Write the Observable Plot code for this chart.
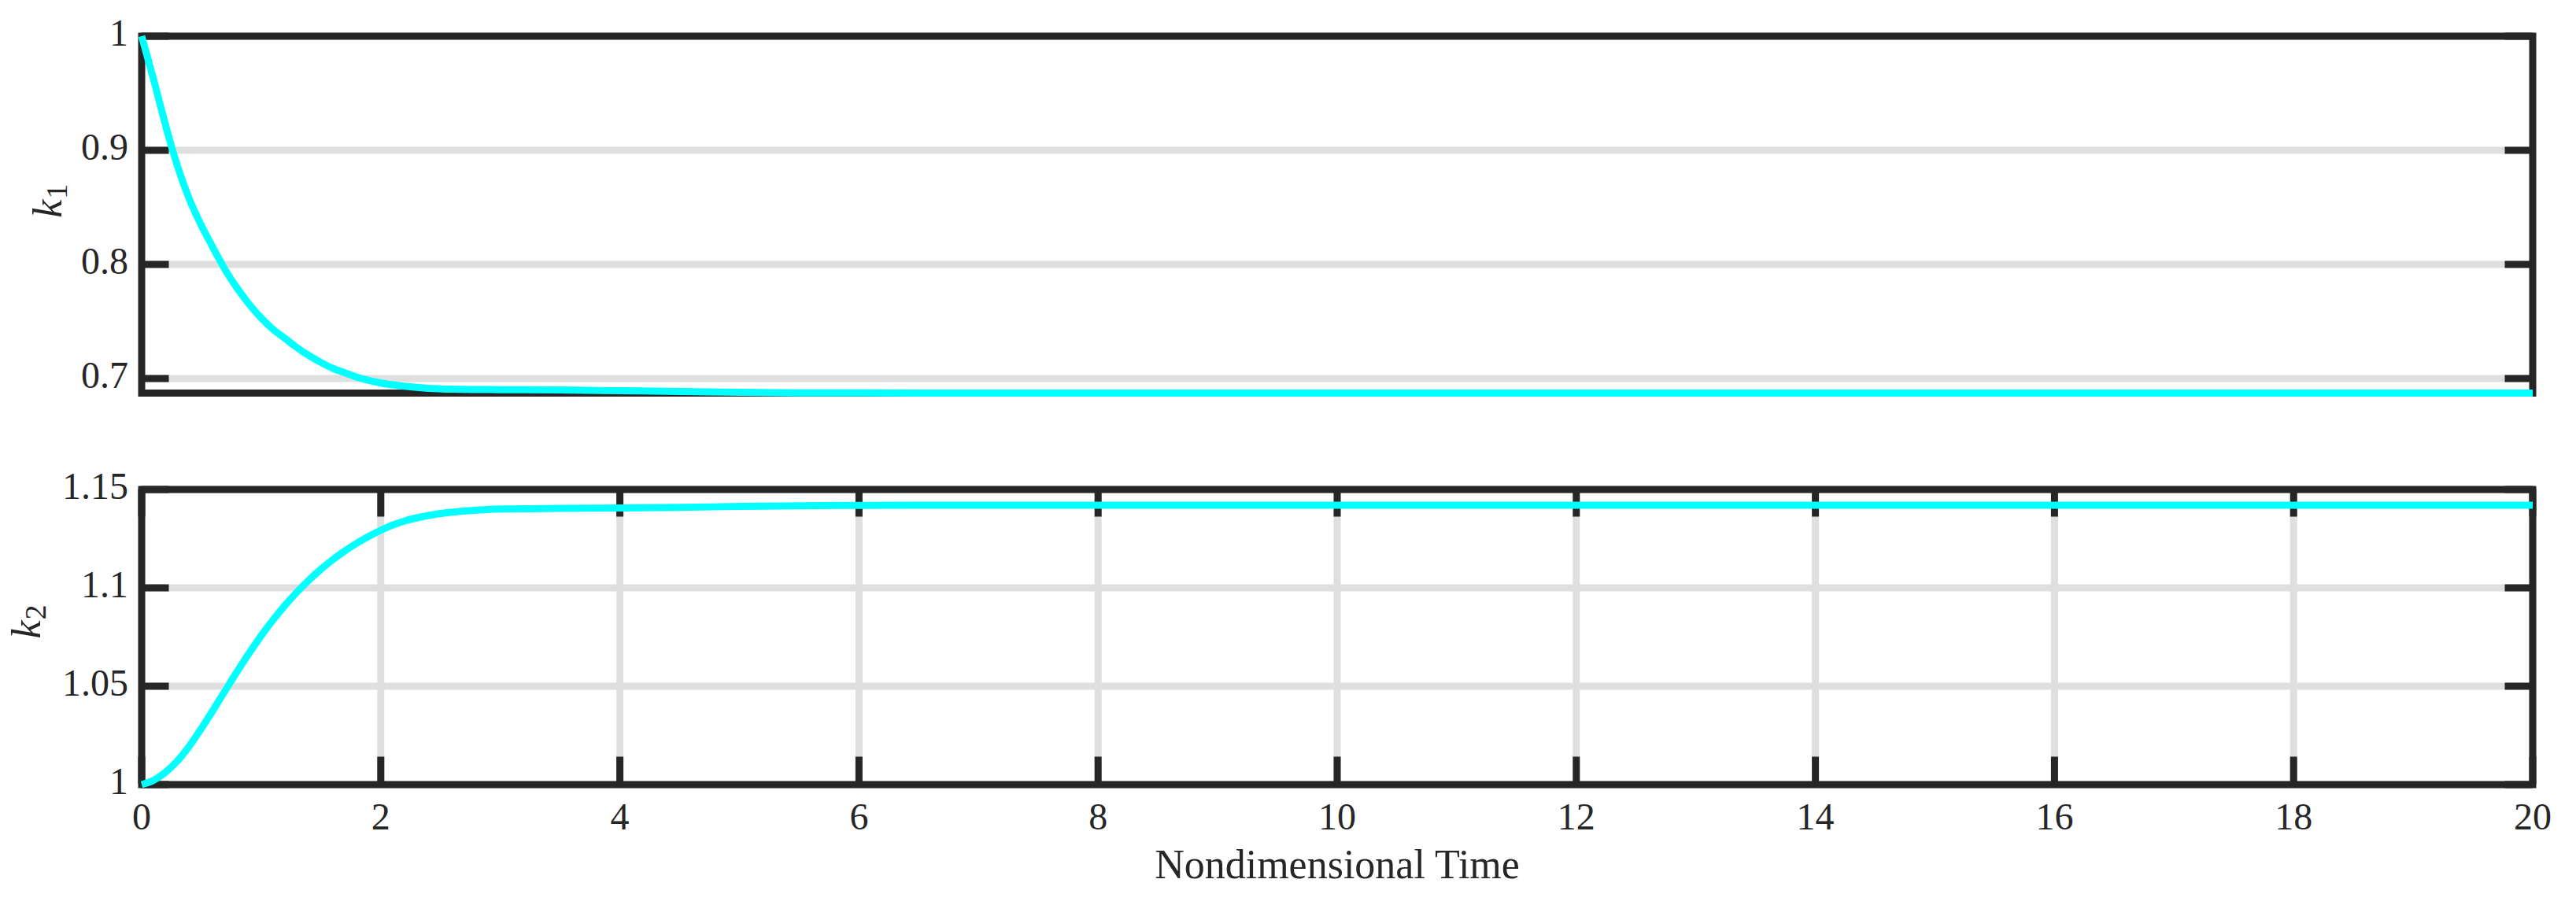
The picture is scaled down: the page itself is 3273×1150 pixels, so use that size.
<!DOCTYPE html>
<html>
<head>
<meta charset="utf-8">
<script src="https://cdn.jsdelivr.net/npm/d3@7"></script>
<script src="https://cdn.jsdelivr.net/npm/@observablehq/plot@0.6"></script>
<style>
  html, body { margin: 0; padding: 0; background: #ffffff; }
  #chart { width: 3273px; height: 1150px; overflow: hidden; }
  #chart svg { display: block; max-width: none; }
</style>
</head>
<body>
<div id="chart"></div>
<script>
// ---------- data ----------
const time = [0, 0.1, 0.2, 0.3, 0.4, 0.5, 0.6, 0.7, 0.8, 0.9, 1.0, 1.1, 1.2, 1.3, 1.4, 1.5, 1.6, 1.7, 1.8, 1.9, 2.0,
              2.2, 2.4, 2.6, 2.8, 3.0, 3.5, 4.0, 4.5, 5.0, 5.5, 6, 7, 8, 10, 12, 14, 16, 18, 20];
const k1 = [1.0, 0.962, 0.922, 0.886, 0.857, 0.834, 0.814, 0.795, 0.779, 0.765, 0.753, 0.743, 0.735, 0.727, 0.720,
            0.714, 0.7088, 0.7049, 0.7012, 0.6983, 0.6960, 0.6932, 0.6914, 0.6906, 0.6903, 0.6902, 0.6899, 0.6893,
            0.6886, 0.6879, 0.6874, 0.6873, 0.6872, 0.6872, 0.6872, 0.6872, 0.6872, 0.6872, 0.6872, 0.6872];
const k2 = [1.0, 1.0022, 1.0063, 1.0121, 1.0197, 1.0286, 1.0381, 1.0479, 1.0576, 1.0669, 1.0757, 1.0838, 1.0912,
            1.0979, 1.1040, 1.1095, 1.1144, 1.1188, 1.1227, 1.1262, 1.1293, 1.1340, 1.1368, 1.1385, 1.1395, 1.1401,
            1.1404, 1.1406, 1.1409, 1.1414, 1.1417, 1.1419, 1.1420, 1.1420, 1.1420, 1.1420, 1.1420, 1.1420, 1.1420, 1.1420];
const xTicks = [0, 2, 4, 6, 8, 10, 12, 14, 16, 18, 20];
const k1Ticks = [0.7, 0.8, 0.9, 1];
const k2Ticks = [1, 1.05, 1.1, 1.15];
const xDomain = [0, 20];
const k1Domain = [0.6872, 1];
const k2Domain = [1, 1.15];
const xLabel = "Nondimensional Time";
const yLabel1 = ["k", "1"];
const yLabel2 = ["k", "2"];

// ---------- styling ----------
const W = 3273;
const ML = 179.5, MR = 55.5;
const INK = "#262626", GRID = "#dfdfdf", LINE = "#00ffff";
const FONT = '"Liberation Serif", "Times New Roman", serif';
const SW = 9;          // line widths
const TICK = 35;       // tick length in px
const plotW = W - ML - MR;

const H1 = 560, MT1 = 45.5, MB1 = 61;
const H2 = 590, MT2 = 61.5, MB2 = 153.5;
const ph2 = H2 - MT2 - MB2;

const tx = (xDomain[1] - xDomain[0]) * TICK / plotW;
const ty2 = (k2Domain[1] - k2Domain[0]) * TICK / ph2;

const rows1 = time.map((t, i) => ({t, k: k1[i]}));
const rows2 = time.map((t, i) => ({t, k: k2[i]}));

const plotStyle = {fontFamily: FONT, fontSize: "48px", color: INK, background: "#ffffff", overflow: "visible"};

const topPlot = Plot.plot({
  width: W, height: H1,
  marginLeft: ML, marginRight: MR, marginTop: MT1, marginBottom: MB1,
  x: {domain: xDomain, axis: null},
  y: {domain: k1Domain},
  style: plotStyle,
  marks: [
    Plot.gridY(k1Ticks, {stroke: GRID, strokeOpacity: 1, strokeWidth: SW}),
    Plot.ruleY(k1Ticks, {x1: xDomain[0], x2: xDomain[0] + tx, stroke: INK, strokeWidth: SW}),
    Plot.ruleY(k1Ticks, {x1: xDomain[1] - tx, x2: xDomain[1], stroke: INK, strokeWidth: SW}),
    Plot.frame({stroke: INK, strokeWidth: SW}),
    Plot.axisY(k1Ticks, {tickSize: 0, tickPadding: 17, tickFormat: d => String(d), label: null,
                         fontSize: 48, fill: INK, dy: -3}),
    Plot.line(rows1, {x: "t", y: "k", stroke: LINE, strokeWidth: SW, curve: "monotone-x",
                      strokeLinecap: "butt", strokeLinejoin: "round"}),
    Plot.text([yLabel1.join("")], {frameAnchor: "left", rotate: -90, text: d => d, dx: -118.5, dy: 4,
                       lineAnchor: "middle", fontSize: 52, fill: INK})
  ]
});

const bottomPlot = Plot.plot({
  width: W, height: H2,
  marginLeft: ML, marginRight: MR, marginTop: MT2, marginBottom: MB2,
  x: {domain: xDomain},
  y: {domain: k2Domain},
  style: plotStyle,
  marks: [
    Plot.gridX(xTicks, {stroke: GRID, strokeOpacity: 1, strokeWidth: SW}),
    Plot.gridY(k2Ticks, {stroke: GRID, strokeOpacity: 1, strokeWidth: SW}),
    Plot.ruleY(k2Ticks, {x1: xDomain[0], x2: xDomain[0] + tx, stroke: INK, strokeWidth: SW}),
    Plot.ruleY(k2Ticks, {x1: xDomain[1] - tx, x2: xDomain[1], stroke: INK, strokeWidth: SW}),
    Plot.ruleX(xTicks, {y1: k2Domain[0], y2: k2Domain[0] + ty2, stroke: INK, strokeWidth: SW}),
    Plot.ruleX(xTicks, {y1: k2Domain[1] - ty2, y2: k2Domain[1], stroke: INK, strokeWidth: SW}),
    Plot.frame({stroke: INK, strokeWidth: SW}),
    Plot.axisX(xTicks, {tickSize: 0, tickPadding: 23, tickFormat: d => String(d), label: null,
                        fontSize: 48, fill: INK}),
    Plot.axisY(k2Ticks, {tickSize: 0, tickPadding: 17, tickFormat: d => String(d), label: null,
                         fontSize: 48, fill: INK, dy: -3}),
    Plot.line(rows2, {x: "t", y: "k", stroke: LINE, strokeWidth: SW, curve: "monotone-x",
                      strokeLinecap: "butt", strokeLinejoin: "round"}),
    Plot.text([xLabel], {frameAnchor: "bottom", text: d => d, dy: 102, lineAnchor: "middle",
                         fontSize: 52, fill: INK}),
    Plot.text([yLabel2.join("")], {frameAnchor: "left", rotate: -90, text: d => d, dx: -145.5, dy: 2,
                       lineAnchor: "middle", fontSize: 52, fill: INK})
  ]
});

// italic k with a smaller, lowered upright subscript digit
function subscriptLabel(svg, parts) {
  const ns = "http://www.w3.org/2000/svg";
  const full = parts.join("");
  svg.querySelectorAll("text").forEach(t => {
    if (t.textContent !== full || t.children.length) return;
    t.textContent = "";
    const a = document.createElementNS(ns, "tspan");
    a.setAttribute("font-style", "italic");
    a.textContent = parts[0];
    const b = document.createElementNS(ns, "tspan");
    b.setAttribute("font-size", "38");
    b.setAttribute("dy", "7");
    b.setAttribute("dx", "1");
    b.textContent = parts[1];
    t.appendChild(a);
    t.appendChild(b);
  });
}
subscriptLabel(topPlot, yLabel1);
subscriptLabel(bottomPlot, yLabel2);

const chart = document.getElementById("chart");
chart.appendChild(topPlot);
chart.appendChild(bottomPlot);
</script>
</body>
</html>
